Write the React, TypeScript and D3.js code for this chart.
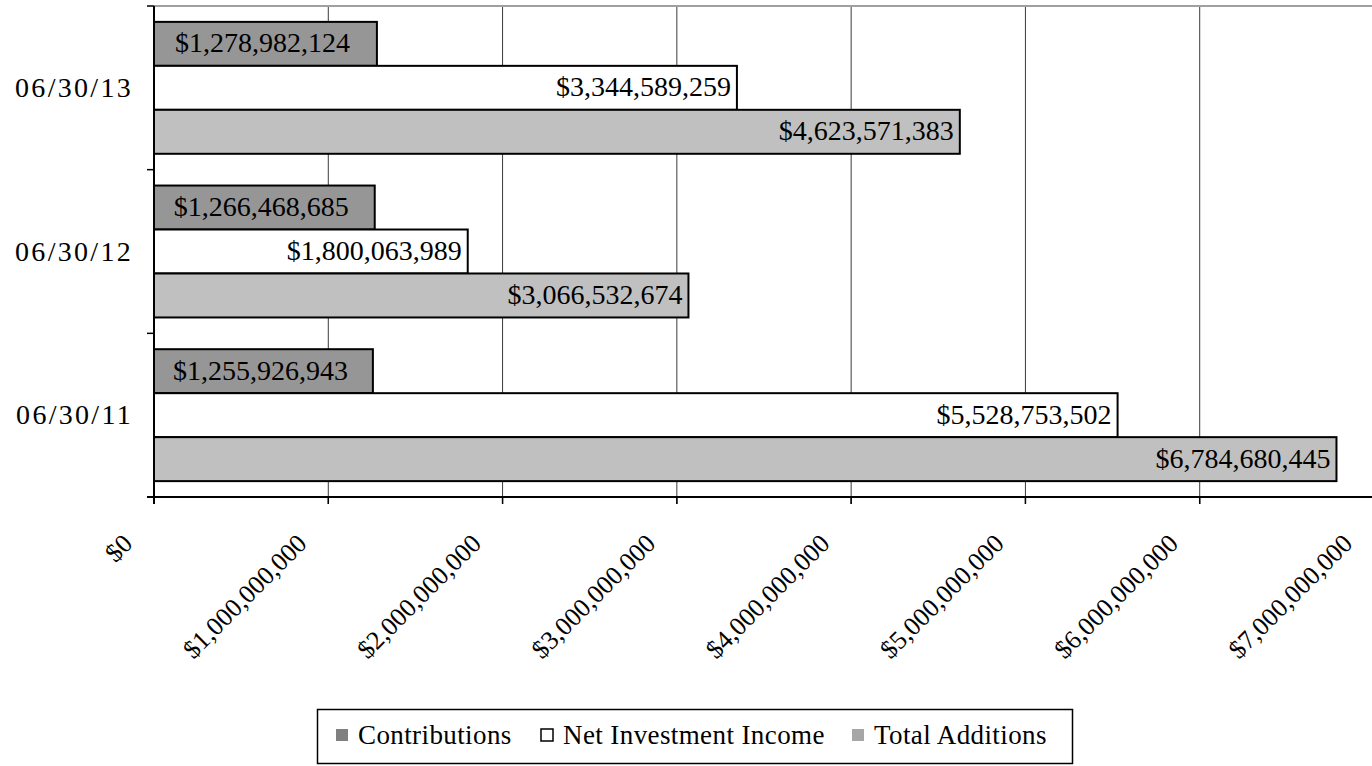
import React, { useEffect, useRef } from "react";
import * as d3 from "d3";

const categories = ["06/30/13", "06/30/12", "06/30/11"];
const seriesNames = ["Contributions", "Net Investment Income", "Total Additions"];
const contributions = [1278982124, 1266468685, 1255926943];
const netInvestmentIncome = [3344589259, 1800063989, 5528753502];
const totalAdditions = [4623571383, 3066532674, 6784680445];
const xTicks = [0, 1e9, 2e9, 3e9, 4e9, 5e9, 6e9, 7e9];

const seriesValues = [contributions, netInvestmentIncome, totalAdditions];
const seriesFill = ["#969696", "#ffffff", "#c0c0c0"];
const legendFill = ["#808080", "#ffffff", "#a6a6a6"];
const labelMode = ["center", "end", "end"];

const W = 1372;
const H = 766;
const FONT = "'Liberation Serif', 'Times New Roman', serif";

export default function App() {
  const ref = useRef<SVGSVGElement | null>(null);

  useEffect(() => {
    const svg = d3.select(ref.current);
    svg.selectAll("*").remove();

    const x = d3.scaleLinear().domain([0, 7e9]).range([154, 1374]);
    const y = d3
      .scaleBand<string>()
      .domain(categories)
      .range([6, 497])
      .paddingInner(0.194)
      .paddingOuter(0.097);
    const inner = d3
      .scaleBand<string>()
      .domain(seriesNames)
      .range([0, y.bandwidth()])
      .padding(0);

    const fmt = (v: number) => "$" + d3.format(",")(v);

    // gridlines
    svg
      .append("g")
      .selectAll("line")
      .data(xTicks.slice(1))
      .join("line")
      .attr("x1", (d) => x(d))
      .attr("x2", (d) => x(d))
      .attr("y1", 6)
      .attr("y2", 504)
      .attr("stroke", "#3a3a3a")
      .attr("stroke-width", 1);

    // top border
    svg
      .append("line")
      .attr("x1", 154)
      .attr("x2", W)
      .attr("y1", 6)
      .attr("y2", 6)
      .attr("stroke", "#a0a0a0")
      .attr("stroke-width", 2);

    // bars
    const groups = svg
      .append("g")
      .selectAll("g")
      .data(categories)
      .join("g")
      .attr("transform", (d) => `translate(0,${y(d)})`);

    seriesNames.forEach((s, si) => {
      groups
        .append("rect")
        .attr("x", x(0))
        .attr("y", inner(s) as number)
        .attr("width", (_d, i) => x(seriesValues[si][i]) - x(0))
        .attr("height", inner.bandwidth())
        .attr("fill", seriesFill[si])
        .attr("stroke", "#000")
        .attr("stroke-width", 2);
    });

    seriesNames.forEach((s, si) => {
      groups
        .append("text")
        .attr("x", (_d, i) =>
          labelMode[si] === "center"
            ? (x(0) + x(seriesValues[si][i])) / 2 - 3
            : x(seriesValues[si][i]) - 6
        )
        .attr("y", (inner(s) as number) + inner.bandwidth() / 2 + 8.5)
        .attr("text-anchor", labelMode[si] === "center" ? "middle" : "end")
        .attr("font-family", FONT)
        .attr("font-size", 28)
        .attr("fill", "#000")
        .text((_d, i) => fmt(seriesValues[si][i]));
    });

    // axes lines
    svg
      .append("line")
      .attr("x1", 154)
      .attr("x2", 154)
      .attr("y1", 6)
      .attr("y2", 504)
      .attr("stroke", "#000")
      .attr("stroke-width", 2);
    svg
      .append("line")
      .attr("x1", 147)
      .attr("x2", W)
      .attr("y1", 497)
      .attr("y2", 497)
      .attr("stroke", "#000")
      .attr("stroke-width", 2);

    // y ticks at band boundaries
    const bounds = categories.map((c) => (y(c) as number) - (y.step() * y.paddingInner()) / 2);
    bounds.push(497);
    svg
      .append("g")
      .selectAll("line")
      .data(bounds)
      .join("line")
      .attr("x1", 147)
      .attr("x2", 154)
      .attr("y1", (d) => Math.max(6, d))
      .attr("y2", (d) => Math.max(6, d))
      .attr("stroke", "#000")
      .attr("stroke-width", 1.5);

    // x ticks
    svg
      .append("g")
      .selectAll("line")
      .data(xTicks)
      .join("line")
      .attr("x1", (d) => x(d))
      .attr("x2", (d) => x(d))
      .attr("y1", 497)
      .attr("y2", 504)
      .attr("stroke", "#000")
      .attr("stroke-width", 1.5);

    // x tick labels
    svg
      .append("g")
      .selectAll("text")
      .data(xTicks)
      .join("text")
      .attr("transform", (d) => `translate(${x(d) - 20},545) rotate(-45)`)
      .attr("text-anchor", "end")
      .attr("font-family", FONT)
      .attr("font-size", 26)
      .attr("fill", "#000")
      .text((d) => (d === 0 ? "$0" : fmt(d)));

    // category labels
    svg
      .append("g")
      .selectAll("text")
      .data(categories)
      .join("text")
      .attr("x", 133)
      .attr("y", (d) => (y(d) as number) + y.bandwidth() / 2 + 9)
      .attr("text-anchor", "end")
      .attr("font-family", FONT)
      .attr("font-size", 28)
      .attr("letter-spacing", 2.3)
      .attr("fill", "#000")
      .text((d) => d);

    // legend
    const legendTop = 709;
    const lg = svg.append("g");
    lg.append("rect")
      .attr("x", 317.5)
      .attr("y", legendTop + 0.5)
      .attr("width", 755)
      .attr("height", 54)
      .attr("fill", "#fff")
      .attr("stroke", "#000")
      .attr("stroke-width", 1.5);
    const legendX = [336, 541, 852];
    seriesNames.forEach((s, si) => {
      lg.append("rect")
        .attr("x", legendX[si])
        .attr("y", legendTop + 20)
        .attr("width", 12)
        .attr("height", 12)
        .attr("fill", legendFill[si])
        .attr("stroke", si === 1 ? "#000" : "none")
        .attr("stroke-width", 1.5);
      lg.append("text")
        .attr("x", legendX[si] + 22)
        .attr("y", legendTop + 35)
        .attr("font-family", FONT)
        .attr("font-size", 27)
        .attr("letter-spacing", 0.4)
        .attr("fill", "#000")
        .text(s);
    });
  }, []);

  return (
    <svg
      ref={ref}
      width={W}
      height={H}
      style={{ position: "absolute", left: 0, top: 0, background: "#fff" }}
    />
  );
}
